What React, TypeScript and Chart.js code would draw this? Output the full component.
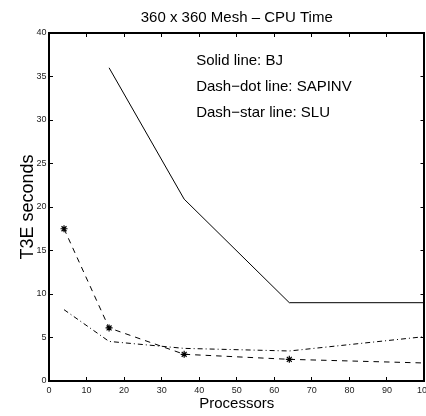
import React, { useEffect, useRef } from 'react';
import { Chart, registerables } from 'chart.js';

Chart.register(...registerables);

const FONT = '"Liberation Sans", Arial, Helvetica, sans-serif';

const titleText = '360 x 360 Mesh – CPU Time';
const xTitle = 'Processors';
const yTitle = 'T3E seconds';

const xMin = 0;
const xMax = 100;
const xStep = 10;
const yMin = 0;
const yMax = 40;
const yStep = 5;

// BJ (solid line)
const bjProcessors = [16, 36, 64, 100];
const bjSeconds = [36, 20.9, 9.0, 9.0];

// SAPINV (dash-dot) and SLU (dash-star)
const processors = [4, 16, 36, 64, 100];
const sapinvSeconds = [8.2, 4.55, 3.75, 3.45, 5.1];
const sluSeconds = [17.5, 6.1, 3.07, 2.49, 2.07];

// in-plot text notes, in data coordinates
const noteLines = ['Solid line: BJ', 'Dash−dot line: SAPINV', 'Dash−star line: SLU'];
const noteX = 39.2;
const noteY = [36.8, 33.8, 30.8];

const notesPlugin = {
  id: 'notes',
  afterDatasetsDraw(chart: any) {
    const { ctx } = chart;
    const xs = chart.scales.x;
    const ys = chart.scales.y;
    ctx.save();
    ctx.font = `15px ${FONT}`;
    ctx.fillStyle = '#000';
    ctx.textAlign = 'left';
    ctx.textBaseline = 'middle';
    noteLines.forEach((t, i) => {
      ctx.fillText(t, xs.getPixelForValue(noteX), ys.getPixelForValue(noteY[i]));
    });
    ctx.restore();
  },
};

const gridOpts = {
  display: true,
  drawOnChartArea: false,
  drawTicks: true,
  tickLength: -4,
  color: '#000',
  lineWidth: 1,
};
const borderOpts = { display: true, color: '#000', width: 2 };

export default function App() {
  const ref = useRef<HTMLCanvasElement | null>(null);

  useEffect(() => {
    if (!ref.current) return;
    const toXY = (xs: number[], ys: number[]) => xs.map((x, i) => ({ x, y: ys[i] }));
    const chart = new Chart(ref.current, {
      type: 'line',
      data: {
        datasets: [
          {
            label: 'BJ',
            data: toXY(bjProcessors, bjSeconds),
            borderColor: '#000',
            borderWidth: 1,
            pointRadius: 0,
            fill: false,
            tension: 0,
          },
          {
            label: 'SAPINV',
            data: toXY(processors, sapinvSeconds),
            borderColor: '#000',
            borderWidth: 1,
            borderDash: [5, 3, 1, 3],
            pointRadius: 0,
            fill: false,
            tension: 0,
          },
          {
            label: 'SLU',
            data: toXY(processors, sluSeconds),
            borderColor: '#000',
            borderWidth: 1,
            borderDash: [5.5, 5],
            pointStyle: 'star',
            pointRadius: (c: any) => (c.raw && c.raw.x >= xMax ? 0 : 3.5),
            pointBorderColor: '#000',
            pointBackgroundColor: 'rgba(0,0,0,0)',
            pointBorderWidth: 1.2,
            fill: false,
            tension: 0,
          },
        ],
      },
      options: {
        animation: false,
        responsive: false,
        devicePixelRatio: 1,
        events: [],
        layout: { padding: { left: 0, top: 0, right: 13, bottom: 0 } },
        plugins: {
          legend: { display: false },
          tooltip: { enabled: false },
          title: {
            display: true,
            text: titleText,
            fullSize: false,
            color: '#000',
            font: { family: FONT, size: 15, weight: 'normal' },
            padding: { top: 8.5, bottom: 6.5 },
          },
        },
        scales: {
          x: {
            type: 'linear',
            position: 'bottom',
            min: xMin,
            max: xMax,
            ticks: {
              stepSize: xStep,
              autoSkip: false,
              maxRotation: 0,
              padding: 8,
              color: '#222',
              font: { family: FONT, size: 9 },
            },
            grid: gridOpts,
            border: borderOpts,
            title: {
              display: true,
              text: xTitle,
              color: '#000',
              font: { family: FONT, size: 15 },
              padding: { top: 0, bottom: 3 },
            },
            afterFit: (s: any) => {
              s.height = 35;
            },
          },
          y: {
            type: 'linear',
            position: 'left',
            min: yMin,
            max: yMax,
            ticks: {
              stepSize: yStep,
              autoSkip: false,
              padding: 6.5,
              color: '#222',
              font: { family: FONT, size: 9 },
            },
            grid: gridOpts,
            border: borderOpts,
            title: {
              display: true,
              text: yTitle,
              color: '#000',
              font: { family: FONT, size: 18 },
              padding: { top: 17.5, bottom: 0 },
            },
            afterFit: (s: any) => {
              s.width = 49;
            },
          },
          x2: {
            type: 'linear',
            position: 'top',
            min: xMin,
            max: xMax,
            ticks: { stepSize: xStep, display: false },
            grid: gridOpts,
            border: borderOpts,
            afterFit: (s: any) => {
              s.height = 0;
            },
          },
          y2: {
            type: 'linear',
            position: 'right',
            min: yMin,
            max: yMax,
            ticks: { stepSize: yStep, display: false },
            grid: gridOpts,
            border: borderOpts,
            afterFit: (s: any) => {
              s.width = 0;
            },
          },
        },
      } as any,
      plugins: [notesPlugin],
    });
    return () => chart.destroy();
  }, []);

  return (
    <div
      style={{
        position: 'absolute',
        left: 0,
        top: 0,
        width: 426,
        height: 416,
        overflow: 'hidden',
        background: '#fff',
      }}
    >
      <canvas ref={ref} width={440} height={416} style={{ display: 'block' }} />
    </div>
  );
}
